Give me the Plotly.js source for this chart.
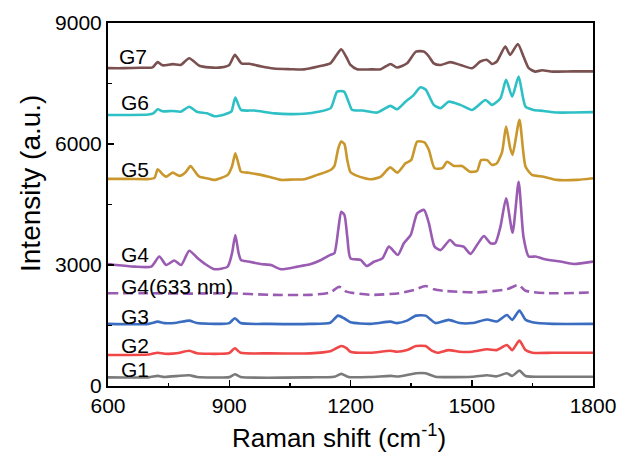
<!DOCTYPE html>
<html>
<head>
<meta charset="utf-8">
<script src="https://cdn.plot.ly/plotly-3.0.1.min.js"></script>
<style>html,body{margin:0;padding:0;background:#fff;}#chart{width:621px;height:454px;}</style>
</head>
<body>
<div id="chart"></div>
<script>
// Raman spectra
const g7x = [600,640,680,710,723,735,760,780,801,826,850,880,900,914,930,950,980,1010,1050,1085,1120,1150,1165,1177,1190,1200,1216,1250,1275,1299,1315,1340,1362,1382,1394,1406,1423,1447,1472,1501,1521,1538,1550,1562,1583,1595,1614,1628,1641,1657,1674,1700,1750,1800];
const g7y = [7880,7880,7890,7900,8030,7950,7980,7960,8127,7940,7900,7900,7960,8210,8000,7990,7920,7870,7855,7850,7920,8000,8200,8350,8150,7960,7855,7850,7855,7985,7895,8000,8290,8290,8170,8000,7960,8030,7960,7880,8045,8085,7985,8045,8415,8210,8480,8170,7880,7795,7830,7795,7800,7800];

const g6x = [600,650,700,712,723,735,760,780,801,820,845,863,890,905,915,929,962,1012,1050,1085,1120,1151,1167,1184,1195,1204,1230,1266,1299,1315,1336,1355,1373,1386,1406,1423,1443,1472,1501,1534,1550,1571,1585,1600,1616,1633,1653,1678,1710,1750,1800];
const g6y = [6720,6720,6730,6760,6860,6810,6820,6800,6925,6800,6760,6690,6740,6800,7150,6845,6830,6760,6740,6750,6800,6890,7300,7300,7050,6845,6830,6780,6945,6860,7050,7200,7405,7350,6970,6890,7050,6970,6845,7090,6970,7135,7590,7175,7670,6925,6845,6820,6780,6780,6790];

const g5x = [600,650,700,715,723,735,744,760,777,792,804,815,826,845,863,896,907,915,923,929,945,978,1000,1028,1060,1085,1118,1151,1160,1170,1177,1185,1192,1200,1217,1250,1275,1298,1316,1336,1350,1365,1383,1394,1408,1427,1439,1456,1476,1495,1513,1523,1538,1550,1562,1575,1585,1595,1601,1618,1633,1649,1678,1711,1760,1800];
const g5y = [5135,5135,5130,5160,5375,5250,5190,5290,5210,5300,5455,5320,5190,5150,5110,5235,5450,5770,5500,5315,5290,5235,5180,5110,5120,5125,5235,5355,5450,5900,6060,6000,5600,5300,5210,5125,5190,5420,5290,5520,5600,6060,6040,5850,5400,5400,5560,5455,5455,5315,5330,5600,5600,5480,5520,5800,6430,5900,5730,6600,5440,5235,5190,5110,5110,5150];

const g4x = [600,620,665,707,727,744,764,781,801,822,838,863,896,907,915,923,929,947,978,1003,1028,1069,1102,1127,1150,1160,1170,1177,1185,1192,1200,1225,1240,1258,1279,1295,1317,1332,1349,1365,1382,1394,1408,1423,1446,1460,1480,1497,1513,1530,1546,1558,1571,1585,1601,1616,1628,1641,1658,1678,1719,1752,1800];
const g4y = [3025,3000,2960,2960,3210,3000,3110,3000,3355,3165,3040,2895,2960,3300,3745,3300,3125,3085,3025,3000,2895,2960,3025,3125,3250,3290,3900,4320,4240,3700,3165,3125,2975,3080,3165,3455,3250,3540,3745,4280,4365,4035,3455,3370,3620,3495,3455,3275,3495,3720,3540,3540,3950,4655,3800,5065,3700,3210,3210,3150,3085,3025,3085];

const g4rx = [600,700,800,900,1000,1100,1150,1172,1190,1250,1320,1357,1386,1406,1431,1512,1587,1616,1633,1690,1800];
const g4ry = [2300,2300,2290,2300,2260,2260,2320,2460,2340,2260,2300,2380,2480,2400,2360,2320,2400,2505,2360,2300,2320];

const g3x = [600,700,723,740,770,801,820,880,900,914,928,1000,1100,1150,1169,1184,1200,1250,1299,1315,1340,1362,1386,1398,1410,1443,1470,1501,1538,1562,1587,1600,1618,1633,1650,1700,1800];
const g3y = [1540,1540,1595,1560,1570,1620,1560,1540,1560,1680,1560,1540,1540,1570,1745,1680,1580,1540,1595,1560,1620,1745,1745,1650,1560,1640,1560,1560,1650,1600,1760,1640,1870,1640,1580,1540,1540];

const g2x = [600,700,723,740,770,801,820,880,900,914,928,1000,1100,1150,1177,1190,1200,1250,1299,1315,1340,1362,1386,1401,1415,1443,1470,1501,1538,1562,1587,1600,1618,1633,1650,1700,1800];
const g2y = [770,780,825,800,810,875,810,800,820,935,825,810,810,860,990,940,850,825,875,850,890,990,990,875,825,890,850,850,910,890,1015,890,1125,890,825,825,825];

const g1x = [600,700,723,740,801,820,900,914,928,1100,1160,1177,1195,1250,1299,1320,1362,1386,1410,1501,1538,1562,1587,1600,1618,1633,1700,1800];
const g1y = [215,215,250,225,265,225,220,290,225,215,230,300,225,225,250,235,315,315,230,230,265,240,315,250,380,250,230,230];

const labels = ["G7","G6","G5","G4","G4(633 nm)","G3","G2","G1"];
const labelX = [622,627,627,627,627,627,627,627];
const labelY = [8160,7020,5360,3250,2455,1735,1015,420];

const xTicks = [600,900,1200,1500,1800];
const yTicks = [0,3000,6000,9000];

const FONT = "Liberation Sans, Arial, sans-serif";

function tr(x, y, color, dash) {
  return {x: x, y: y, type: 'scatter', mode: 'lines',
    line: {color: color, width: 2.6, dash: dash || 'solid', shape: 'spline', smoothing: 0.6},
    hoverinfo: 'skip', showlegend: false};
}

const data = [
  tr(g1x, g1y, '#7a7a7a'),
  tr(g2x, g2y, '#f04848'),
  tr(g3x, g3y, '#3a6cc0'),
  tr(g4rx, g4ry, '#9a5cb2', '10px,5px'),
  tr(g4x, g4y, '#9a5cb2'),
  tr(g5x, g5y, '#c9972c'),
  tr(g6x, g6y, '#2fc0c6'),
  tr(g7x, g7y, '#7a5050')
];

const annotations = labels.map((t, i) => ({
  x: labelX[i], y: labelY[i], xref: 'x', yref: 'y', text: t,
  showarrow: false, xanchor: 'left', yanchor: 'middle',
  font: {family: FONT, size: 21, color: '#000'}
}));
annotations.push({
  x: 0.476, y: -0.138, xref: 'paper', yref: 'paper', text: 'Raman shift (cm<sup>-1</sup>)',
  showarrow: false, xanchor: 'center', yanchor: 'middle',
  font: {family: FONT, size: 26, color: '#000'}
});
annotations.push({
  x: -0.161, y: 0.559, xref: 'paper', yref: 'paper', text: 'Intensity (a.u.)',
  showarrow: false, xanchor: 'center', yanchor: 'middle', textangle: -90,
  font: {family: FONT, size: 28, color: '#000'}
});

const layout = {
  width: 621, height: 454,
  margin: {l: 108, r: 28, t: 23, b: 68},
  paper_bgcolor: '#fff', plot_bgcolor: '#fff',
  showlegend: false,
  font: {family: FONT, color: '#000'},
  xaxis: {
    range: [600, 1800], tickvals: xTicks, ticktext: xTicks.map(String),
    ticks: 'inside', ticklen: 6, tickwidth: 1.5, tickcolor: '#000',
    minor: {dtick: 150, tick0: 600, ticks: 'inside', ticklen: 3.5, tickwidth: 1.5, tickcolor: '#000'},
    showline: true, mirror: true, linecolor: '#000', linewidth: 2,
    showgrid: false, zeroline: false,
    tickfont: {family: FONT, size: 21, color: '#000'}
  },
  yaxis: {
    range: [0, 9000], tickvals: yTicks, ticktext: yTicks.map(String),
    ticks: 'inside', ticklen: 6, tickwidth: 1.5, tickcolor: '#000',
    minor: {dtick: 1500, tick0: 0, ticks: 'inside', ticklen: 3.5, tickwidth: 1.5, tickcolor: '#000'},
    showline: true, mirror: true, linecolor: '#000', linewidth: 2,
    showgrid: false, zeroline: false,
    tickfont: {family: FONT, size: 21, color: '#000'}
  },
  annotations: annotations
};

Plotly.newPlot('chart', data, layout, {staticPlot: true, displayModeBar: false});
</script>
</body>
</html>
